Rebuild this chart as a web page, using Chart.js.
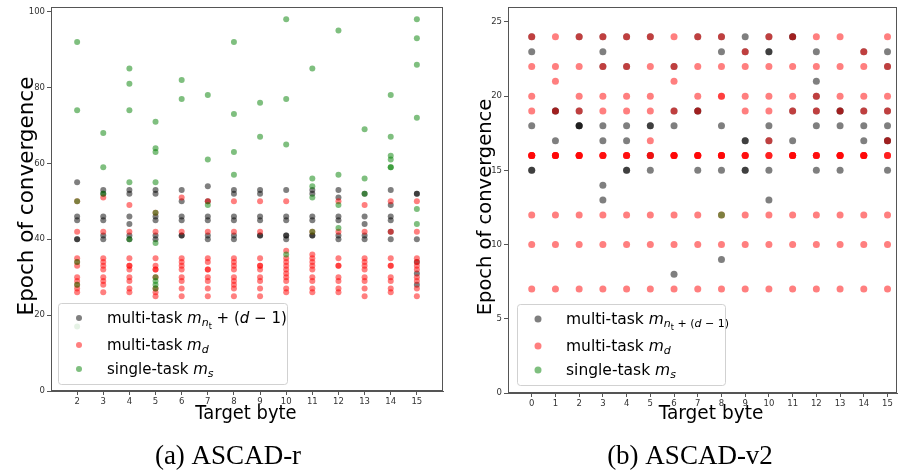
<!DOCTYPE html>
<html>
<head>
<meta charset="utf-8">
<script src="https://cdn.jsdelivr.net/npm/chart.js@4.4.1/dist/chart.umd.min.js"></script>
<style>
  html, body { margin: 0; padding: 0; background: #fff; }
  #wrap { position: relative; width: 902px; height: 475px; }
  .pane { position: absolute; top: 0; width: 451px; height: 475px; }
</style>
</head>
<body>
<div id="wrap">
  <div class="pane" style="left:0"><canvas id="chartR" width="451" height="475"></canvas></div>
  <div class="pane" style="left:451px"><canvas id="chartV2" width="451" height="475"></canvas></div>
</div>
<script>
// (a) ASCAD-r : epoch of convergence per target byte
const bytesR = [2, 3, 4, 5, 6, 7, 8, 9, 10, 11, 12, 13, 14, 15];
const multiNtR = [
  [55, 46, 45, 40, 40],
  [53, 52, 46, 45, 41, 40],
  [53, 52, 46, 44, 41, 40],
  [53, 52, 46, 45, 41, 40],
  [53, 50, 46, 45, 41, 41],
  [54, 50, 46, 45, 41, 40],
  [53, 52, 46, 45, 41, 40],
  [53, 52, 46, 45, 41, 41],
  [53, 46, 45, 41, 41, 40],
  [53, 52, 46, 45, 41, 41],
  [53, 51, 46, 45, 41, 40],
  [52, 46, 44, 41, 40],
  [53, 49, 46, 45, 42, 40],
  [52, 52, 40, 34, 31, 28]
];
const multiDR = [
  [50, 42, 35, 34, 33, 30, 29, 28, 27, 26],
  [51, 42, 35, 34, 33, 32, 30, 29, 28, 26],
  [49, 42, 35, 33, 33, 32, 30, 29, 27, 26],
  [47, 42, 35, 33, 32, 32, 30, 27, 26, 25],
  [51, 42, 35, 34, 33, 32, 30, 29, 27, 25],
  [50, 42, 35, 34, 32, 32, 30, 29, 27, 25],
  [50, 42, 35, 34, 33, 32, 30, 29, 28, 27, 25],
  [50, 42, 35, 33, 33, 32, 30, 29, 27, 25],
  [50, 37, 35, 34, 33, 32, 31, 30, 29, 27, 26],
  [42, 36, 35, 34, 33, 32, 30, 29, 27, 26],
  [50, 42, 35, 33, 33, 30, 29, 27, 26],
  [49, 42, 35, 34, 33, 32, 30, 29, 27, 25],
  [50, 42, 35, 33, 33, 30, 29, 27, 26],
  [50, 42, 35, 34, 33, 32, 30, 29, 27, 25]
];
const singleR = [
  [92, 74, 50, 34, 28, 17],
  [68, 59, 52],
  [85, 81, 74, 55, 40],
  [71, 64, 63, 55, 47, 39, 30, 29, 28, 27],
  [82, 77],
  [78, 61, 49],
  [92, 73, 63, 57],
  [76, 67],
  [98, 77, 65, 36],
  [85, 56, 54, 51, 42],
  [95, 57, 49, 43],
  [69, 56, 52],
  [78, 67, 62, 61, 59, 59],
  [98, 93, 86, 72, 48, 44]
];
const yTicksR = [0, 20, 40, 60, 80, 100];

// (b) ASCAD-v2
const bytesV2 = [0, 1, 2, 3, 4, 5, 6, 7, 8, 9, 10, 11, 12, 13, 14, 15];
const multiNtV2 = [
  [24, 23, 18, 15, 15],
  [19, 19, 17],
  [24, 19, 18, 18, 18],
  [24, 23, 22, 18, 17, 14, 13],
  [24, 22, 18, 17, 15, 15],
  [24, 18, 18, 16, 15],
  [22, 19, 18, 8],
  [24, 19, 19, 15],
  [24, 23, 18, 15, 9],
  [24, 23, 17, 17, 15, 15],
  [24, 23, 23, 18, 17, 15, 13],
  [24, 24, 19, 17],
  [23, 21, 20, 19, 18, 15],
  [19, 19, 18, 15],
  [23, 19, 18, 17],
  [23, 22, 19, 18, 17, 17, 15]
];
const multiDV2 = [
  [24, 22, 20, 19, 16, 16, 16, 16, 16, 12, 10, 7],
  [24, 22, 21, 19, 16, 16, 16, 16, 16, 12, 10, 7],
  [24, 22, 20, 19, 16, 16, 16, 16, 16, 12, 10, 7],
  [24, 22, 20, 19, 16, 16, 16, 16, 12, 10, 7],
  [24, 22, 20, 19, 16, 16, 16, 16, 12, 10, 7],
  [24, 22, 20, 19, 17, 16, 16, 16, 12, 10, 7],
  [24, 22, 21, 19, 16, 16, 16, 16, 16, 12, 10, 7],
  [24, 22, 20, 19, 16, 16, 16, 16, 16, 12, 10, 7],
  [24, 22, 20, 20, 16, 16, 16, 16, 16, 12, 10, 7],
  [23, 22, 20, 19, 16, 16, 16, 16, 12, 10, 7],
  [24, 22, 20, 19, 17, 16, 16, 16, 12, 10, 7],
  [24, 22, 20, 19, 16, 16, 16, 16, 16, 12, 10, 7],
  [24, 22, 20, 19, 16, 16, 16, 16, 12, 10, 7],
  [24, 22, 20, 19, 16, 16, 16, 16, 16, 12, 10, 7],
  [23, 22, 20, 19, 16, 16, 16, 16, 16, 12, 10, 7],
  [24, 22, 20, 19, 17, 16, 16, 16, 12, 10, 7]
];
const singleV2 = [[], [], [], [], [], [], [], [], [12], [], [], [], [], [], [], []];
const yTicksV2 = [0, 5, 10, 15, 20, 25];

const GREY = 'rgba(0,0,0,0.5)';
const RED = 'rgba(255,0,0,0.5)';
const GREEN = 'rgba(0,128,0,0.5)';
const FONT = '"DejaVu Sans", sans-serif';

function toPoints(bytes, lists) {
  const pts = [];
  bytes.forEach((b, i) => lists[i].forEach(v => pts.push({ x: b, y: v })));
  return pts;
}

function drawParts(ctx, x, y, parts) {
  parts.forEach(p => {
    ctx.font = (p.it ? 'italic ' : '') + p.s + 'px ' + FONT;
    ctx.fillText(p.t, x, y + (p.dy || 0));
    x += ctx.measureText(p.t).width;
  });
}

function decor(o) {
  return {
    id: 'decor',
    afterDatasetsDraw(chart) {
      const ctx = chart.ctx, a = chart.chartArea;
      ctx.save();
      ctx.strokeStyle = '#555';
      ctx.lineWidth = 1;
      ctx.strokeRect(Math.round(a.left) + 0.5, Math.round(a.top) + 0.5,
        Math.round(a.right - a.left) - 1, Math.round(a.bottom - a.top) - 1);

      // legend
      const L = o.legend;
      ctx.fillStyle = 'rgba(255,255,255,0.8)';
      ctx.strokeStyle = 'rgba(204,204,204,0.9)';
      ctx.beginPath();
      ctx.roundRect(L.x + 0.5, L.y + 0.5, L.w, L.h, 3);
      ctx.fill();
      ctx.stroke();
      L.rows.forEach((row, i) => {
        const cy = L.rowY[i];
        ctx.fillStyle = row.color;
        ctx.beginPath();
        ctx.arc(L.mx, cy, L.mr, 0, Math.PI * 2);
        ctx.fill();
        ctx.fillStyle = '#000';
        ctx.textBaseline = 'alphabetic';
        ctx.textAlign = 'left';
        drawParts(ctx, L.tx, cy + 5, row.parts);
      });
      ctx.restore();
    },
    afterDraw(chart) {
      const ctx = chart.ctx;
      ctx.save();
      ctx.fillStyle = '#000';
      ctx.textAlign = 'center';
      ctx.textBaseline = 'middle';
      // y title
      ctx.save();
      ctx.translate(o.yTitle.x, o.yTitle.y);
      ctx.rotate(-Math.PI / 2);
      ctx.font = o.yTitle.s + 'px ' + FONT;
      ctx.fillText('Epoch of convergence', 0, 0);
      ctx.restore();
      // x title
      ctx.save();
      ctx.translate(o.xTitle.x, o.xTitle.y);
      ctx.scale(o.xTitle.sx, 1);
      ctx.font = o.xTitle.s + 'px ' + FONT;
      ctx.fillText('Target byte', 0, 0);
      ctx.restore();
      // caption
      ctx.textBaseline = 'alphabetic';
      ctx.font = o.caption.s + 'px "Liberation Serif", serif';
      ctx.fillText(o.caption.t, o.caption.x, o.caption.y);
      ctx.restore();
    }
  };
}

function makeChart(id, cfg) {
  const fixW = cfg.yWidth, fixH = cfg.xHeight;
  new Chart(document.getElementById(id), {
    type: 'scatter',
    data: {
      datasets: [
        { label: 'single-task', data: toPoints(cfg.bytes, cfg.single), backgroundColor: GREEN },
        { label: 'multi-task d', data: toPoints(cfg.bytes, cfg.multiD), backgroundColor: RED },
        { label: 'multi-task nt', data: toPoints(cfg.bytes, cfg.multiNt), backgroundColor: GREY }
      ]
    },
    options: {
      responsive: false,
      animation: false,
      events: [],
      elements: { point: { radius: cfg.r, borderWidth: 0, hoverRadius: cfg.r } },
      layout: { padding: { top: 5, right: cfg.padRight, left: 0, bottom: 0 } },
      plugins: { legend: { display: false }, tooltip: { enabled: false } },
      scales: {
        x: {
          type: 'linear', min: cfg.xMin, max: cfg.xMax,
          afterBuildTicks: axis => { axis.ticks = cfg.bytes.map(v => ({ value: v })); },
          afterFit: scale => { scale.height = fixH; },
          grid: { drawOnChartArea: false, tickLength: 4, color: '#555' },
          border: { color: '#555' },
          ticks: { font: { family: FONT, size: 8.5 }, color: '#333', padding: 2, maxRotation: 0, autoSkip: false }
        },
        y: {
          min: 0, max: cfg.yMax,
          afterBuildTicks: axis => { axis.ticks = cfg.yTicks.map(v => ({ value: v })); },
          afterFit: scale => { scale.width = fixW; },
          grid: { drawOnChartArea: false, tickLength: 4, color: '#555' },
          border: { color: '#555' },
          ticks: { font: { family: FONT, size: 8.5 }, color: '#333', padding: 2 }
        }
      }
    },
    plugins: [decor(cfg.decor)]
  });
}

function legendRows(big, s) {
  const sub = Math.round(s * 0.7), sub2 = Math.round(s * 0.5);
  const first = big
    ? [{ t: 'multi-task ', s: s }, { t: 'm', s: s, it: true }, { t: 'n', s: sub, it: true, dy: 3 },
       { t: 't', s: sub2, dy: 6 }, { t: ' + (', s: sub, dy: 3 }, { t: 'd', s: sub, it: true, dy: 3 },
       { t: ' \u2212 1)', s: sub, dy: 3 }]
    : [{ t: 'multi-task ', s: s }, { t: 'm', s: s, it: true }, { t: 'n', s: sub, it: true, dy: 3 },
       { t: 't', s: sub2, dy: 6 }, { t: ' + (', s: s }, { t: 'd', s: s, it: true }, { t: ' \u2212 1)', s: s }];
  return [
    { color: GREY, parts: first },
    { color: RED, parts: [{ t: 'multi-task ', s: s }, { t: 'm', s: s, it: true }, { t: 'd', s: sub, it: true, dy: 3 }] },
    { color: GREEN, parts: [{ t: 'single-task ', s: s }, { t: 'm', s: s, it: true }, { t: 's', s: sub, it: true, dy: 3 }] }
  ];
}

makeChart('chartR', {
  bytes: bytesR, multiNt: multiNtR, multiD: multiDR, single: singleR, yTicks: yTicksR,
  xMin: 1, xMax: 16, yMax: 101.2, r: 3,
  yWidth: 51, xHeight: 84, padRight: 8,
  decor: {
    legend: { x: 58, y: 303, w: 229, h: 81, mx: 79, mr: 3, tx: 107, rowY: [318, 345, 369], rows: legendRows(false, 15) },
    yTitle: { x: 27, y: 196, s: 21.5 },
    xTitle: { x: 246, y: 414, s: 19.5, sx: 0.92 },
    caption: { t: '(a) ASCAD-r', x: 228, y: 464, s: 27 }
  }
});

makeChart('chartV2', {
  bytes: bytesV2, multiNt: multiNtV2, multiD: multiDV2, single: singleV2, yTicks: yTicksV2,
  xMin: -1, xMax: 15.4, yMax: 26, r: 3.5,
  yWidth: 57, xHeight: 82, padRight: 5,
  decor: {
    legend: { x: 66, y: 304, w: 208, h: 81, mx: 87, mr: 3.5, tx: 115, rowY: [319, 346, 370], rows: legendRows(true, 15.5) },
    yTitle: { x: 35, y: 207, s: 19.5 },
    xTitle: { x: 260, y: 414, s: 19.5, sx: 0.95 },
    caption: { t: '(b) ASCAD-v2', x: 239, y: 464, s: 27 }
  }
});
</script>
</body>
</html>
